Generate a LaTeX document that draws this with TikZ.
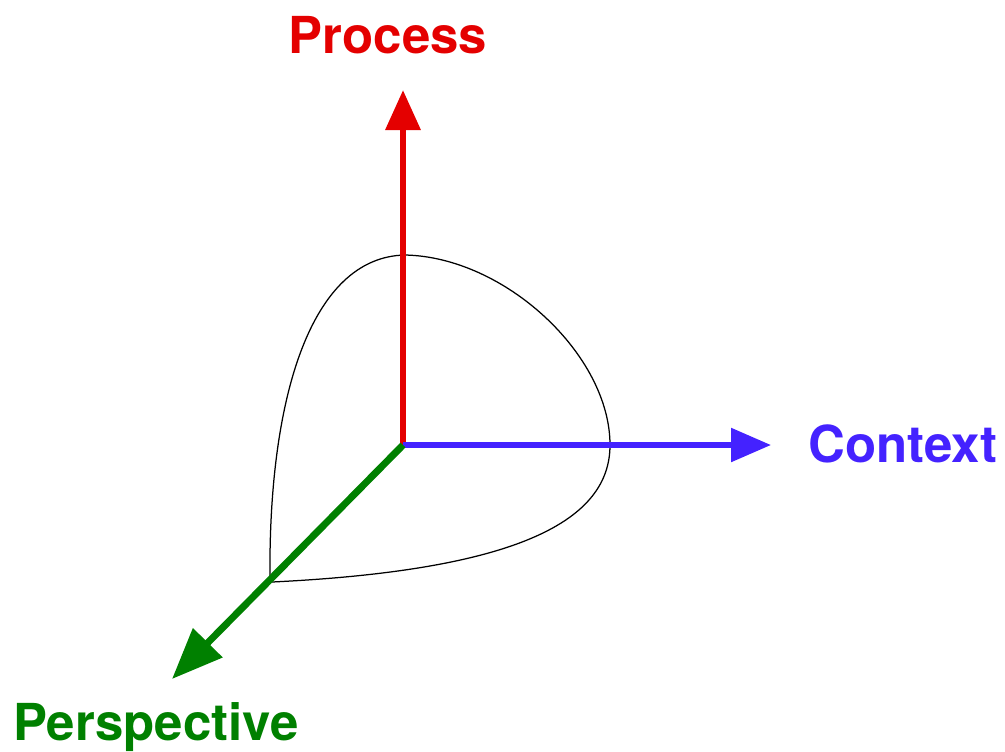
\documentclass[tikz,border=0pt]{standalone}
\usepackage{fontspec}
\setmainfont{TeX Gyre Heros}
\usetikzlibrary{arrows.meta}

\definecolor{procred}{RGB}{228,0,0}
\definecolor{ctxblue}{RGB}{68,34,255}
\definecolor{perspgreen}{RGB}{0,128,0}

\begin{document}
\begin{tikzpicture}[x=0.2mm, y=-0.2mm,
    label/.style={font=\fontsize{29}{34}\selectfont\bfseries, anchor=base, inner sep=0pt},
    axis/.style={line cap=butt}]
  \useasboundingbox (0,0) rectangle (1005,751);

  % 座標
  \coordinate (O)     at (403,445);
  \coordinate (ptip)  at (403,90);
  \coordinate (ctip)  at (771,445);
  \coordinate (gtip)  at (172,679);

  % 曲面
  \draw[line width=0.25mm] (270,580) .. controls (268,400) and (310,257) .. (405,255)
    .. controls (505,257) and (610,355) .. (610,445)
    .. controls (610,520) and (520,570) .. (272,582);

  % 軸
  \draw[axis, procred, line width=1.3mm, -{Triangle[length=8mm, width=6.8mm]}] (O) -- (ptip);
  \draw[axis, ctxblue, line width=1.1mm, -{Triangle[length=8mm, width=6.6mm]}] (O) -- (ctip);
  \draw[axis, perspgreen, line width=1.4mm, -{Triangle[length=10.2mm, width=8mm]}] (O) -- (gtip);

  % ラベル
  \node[label, procred]    (process)     at (388,53)  {Process};
  \node[label, ctxblue]    (context)     at (903,462) {Context};
  \node[label, perspgreen] (perspective) at (156,740) {Perspective};
\end{tikzpicture}
\end{document}
